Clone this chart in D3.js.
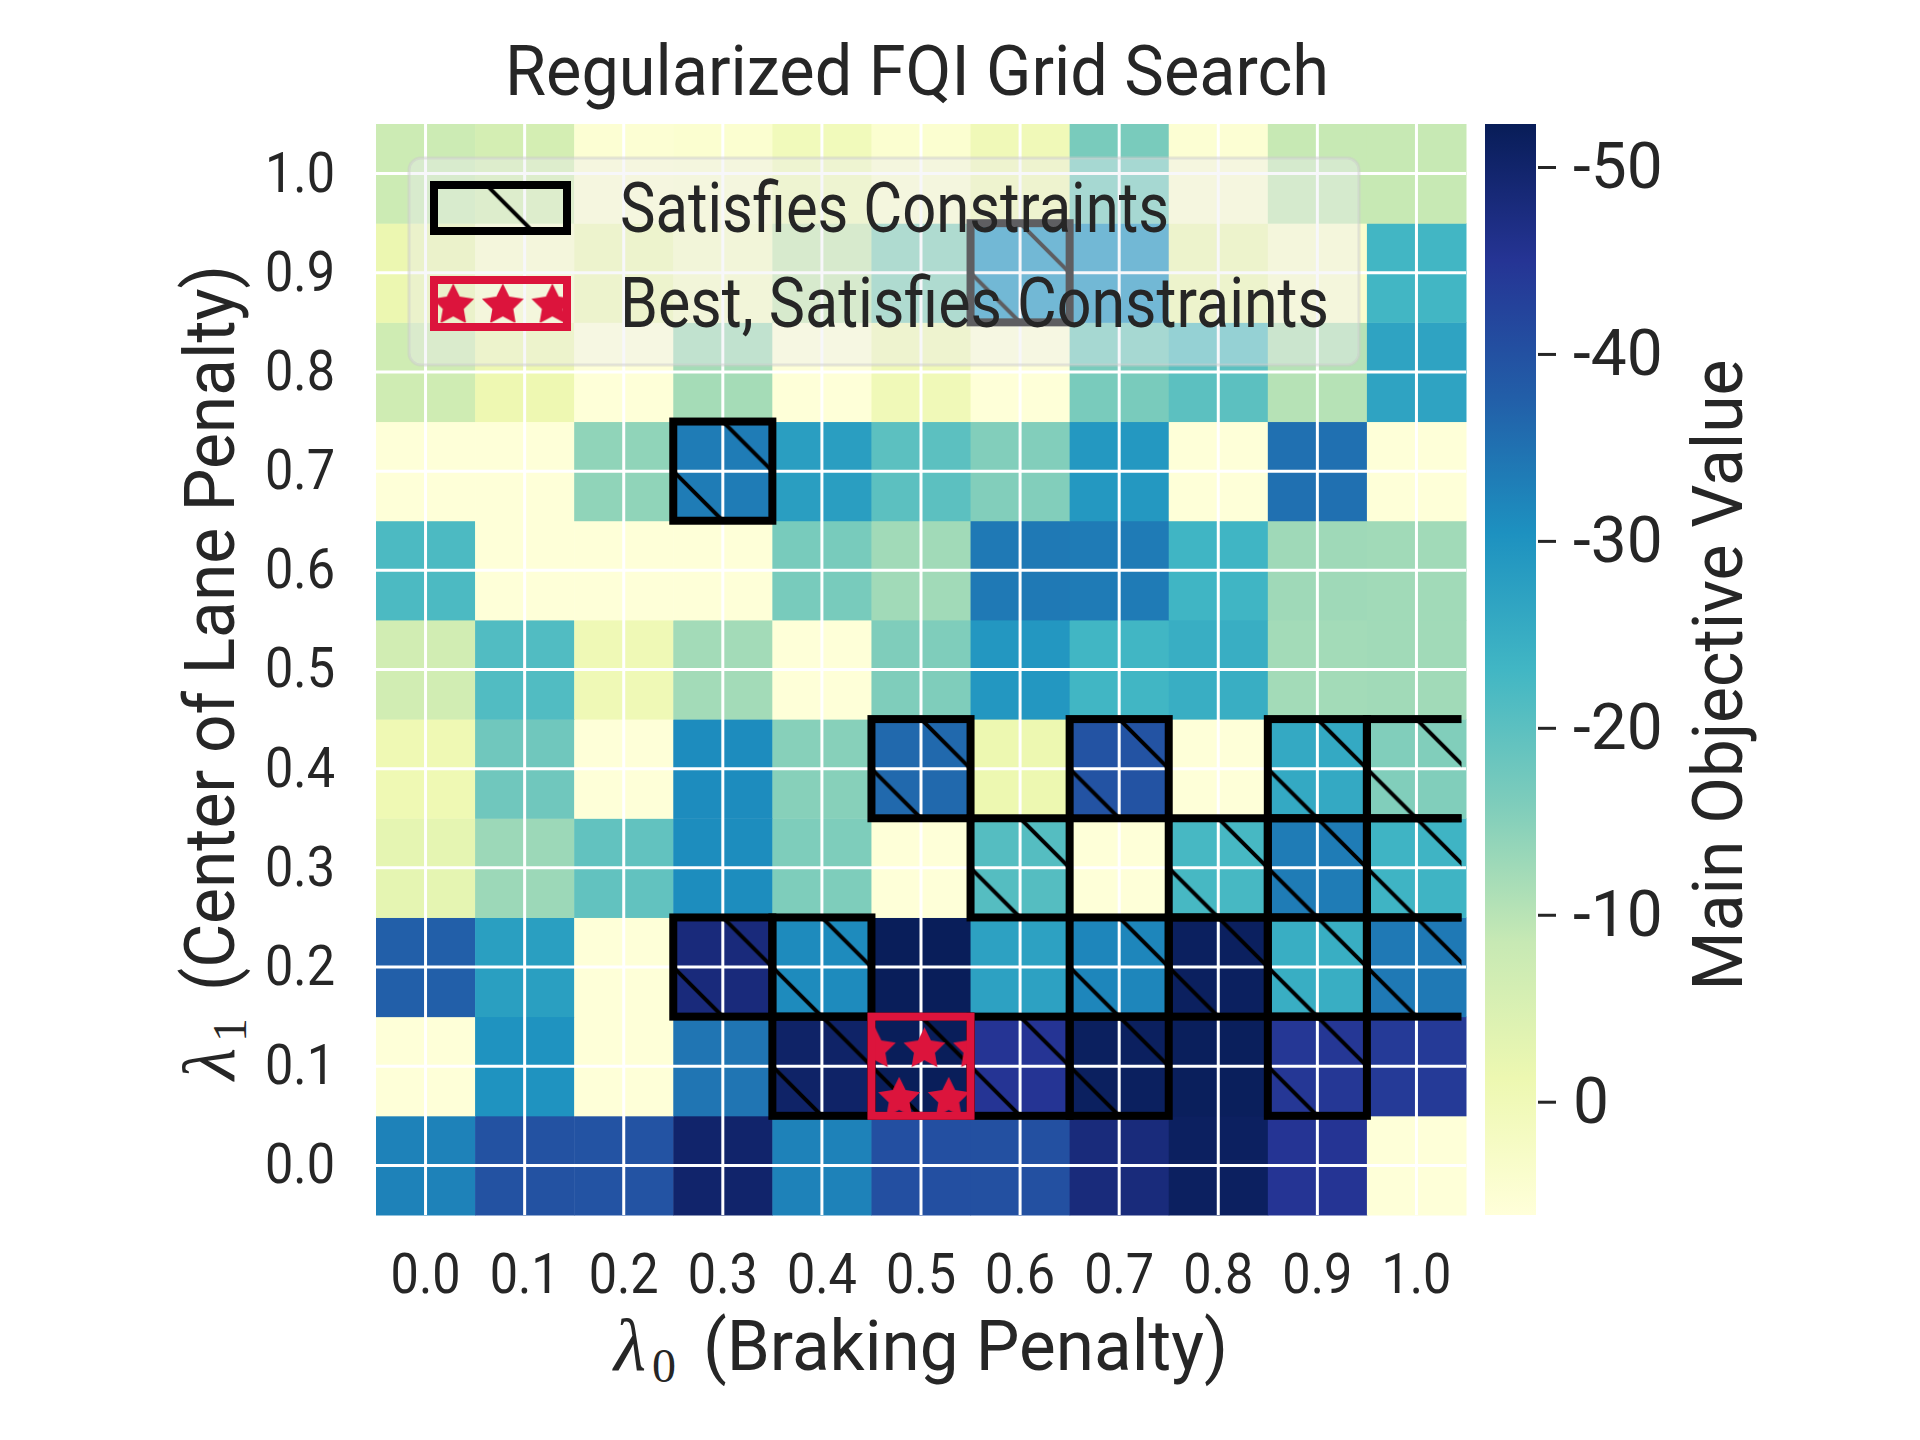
<!DOCTYPE html>
<html>
<head>
<meta charset="utf-8">
<script src="https://cdn.jsdelivr.net/npm/d3@7"></script>
<style>
    body { margin: 0; background: #fff; }
    text { font-family: Roboto, "Liberation Sans", sans-serif; fill: #262626; }
</style>
</head>
<body>
<div id="chart"></div>
<script>
// Regularized FQI grid search heatmap

// tick labels
const lambda0Labels = ['0.0', '0.1', '0.2', '0.3', '0.4', '0.5', '0.6', '0.7', '0.8', '0.9', '1.0'];
const lambda1Labels = ['0.0', '0.1', '0.2', '0.3', '0.4', '0.5', '0.6', '0.7', '0.8', '0.9', '1.0'];

// main objective value, one row per lambda1 (0.0 at the bottom), columns lambda0 0.0 .. 1.0
const objective = [
    [-32.6, -39.8, -39.7, -50.0, -32.6, -40.3, -40.2, -48.0, -51.3, -45.0,   5.8], // 0.0
    [  5.8, -30.0,   5.8, -34.4, -50.5, -52.0, -45.0, -51.5, -51.8, -44.5, -44.0], // 0.1
    [-37.5, -27.7,   5.8, -48.1, -31.3, -52.0, -27.2, -32.0, -51.5, -24.7, -33.9], // 0.2
    [ -2.7, -12.9, -19.2, -31.0, -15.9,   5.8, -20.8,   5.8, -22.4, -33.4, -23.5], // 0.3
    [ -0.6, -17.6,   5.8, -31.1, -15.0, -36.2,  -1.3, -39.6,   5.8, -25.7, -15.6], // 0.4
    [ -6.6, -21.2,  -0.4, -12.2,   5.8, -15.8, -29.2, -23.2, -24.7, -12.2, -12.4], // 0.5
    [-21.8,   5.8,   5.8,   5.8, -16.6, -12.4, -33.8, -33.5, -23.3, -12.6, -12.4], // 0.6
    [  5.8,   5.8, -14.1, -33.4, -27.8, -19.9, -15.5, -29.0,   5.8, -35.1,   5.8], // 0.7
    [ -7.0,  -1.0,   5.8, -12.0,   5.8,   0.0,   5.8, -16.5, -19.9, -10.3, -26.8], // 0.8
    [ -1.5,   4.0,  -0.5,   3.0,  -8.0, -15.0, -29.5, -29.5,  -1.0,   4.0, -23.0], // 0.9
    [ -7.5,  -6.0,   5.0,   4.5,   0.5,   4.5,   0.0, -16.5,   5.0,  -8.5,  -8.5]  // 1.0
];

// cells that satisfy the constraints: [lambda0 index, lambda1 index]
const satisfiesCells = [
    [3, 7], [6, 9],
    [5, 4], [7, 4], [9, 4], [10, 4],
    [6, 3], [8, 3], [9, 3], [10, 3],
    [3, 2], [4, 2], [7, 2], [8, 2], [9, 2], [10, 2],
    [4, 1], [5, 1], [6, 1], [7, 1], [9, 1]
];
const bestCell = [5, 1];

const colorbarTicks = [-50, -40, -30, -20, -10, 0];
const colorDomain = [6.06, -52.3];
const ylgnbu = ['#ffffd9', '#edf8b1', '#c7e9b4', '#7fcdbb', '#41b6c4', '#1d91c0', '#225ea8', '#253494', '#081d58'];

// five-pointed star, inner radius half the outer one
function starPath(R) {
    const pts = d3.range(10).map(i => {
        const a = -Math.PI / 2 + i * Math.PI / 5;
        const r = i % 2 ? R * 0.5 : R;
        return [r * Math.cos(a), r * Math.sin(a)];
    });
    return 'M' + pts.map(p => p.join(',')).join('L') + 'Z';
}

function drawChart() {
    const W = 1920, H = 1440;
    const plot = { left: 376, right: 1466, top: 124, bottom: 1215 };
    const cbar = { left: 1485, right: 1536 };

    const svg = d3.select('#chart')
        .append('svg')
        .attr('width', W)
        .attr('height', H);

    svg.append('rect').attr('width', W).attr('height', H).attr('fill', '#fff');

    const x = d3.scaleBand().domain(lambda0Labels).range([plot.left, plot.right]);
    const y = d3.scaleBand().domain(lambda1Labels).range([plot.bottom, plot.top]);
    const cw = x.bandwidth(), ch = y.bandwidth();

    const stops = ylgnbu.map((c, i) => colorDomain[0] + (colorDomain[1] - colorDomain[0]) * i / (ylgnbu.length - 1));
    const color = d3.scaleLinear().domain(stops).range(ylgnbu).interpolate(d3.interpolateRgb).clamp(true);

    const defs = svg.append('defs');

    // hatch "\" aligned to the cell grid
    const hatch = defs.append('pattern')
        .attr('id', 'hatch')
        .attr('patternUnits', 'userSpaceOnUse')
        .attr('x', plot.left).attr('y', plot.top)
        .attr('width', cw).attr('height', ch);
    hatch.append('path')
        .attr('d', `M${cw / 2 - cw * 0.1},${-ch * 0.1}L${cw * 1.1},${ch / 2 + ch * 0.1}` +
                   `M${-cw * 0.1},${ch / 2 - ch * 0.1}L${cw / 2 + cw * 0.1},${ch * 1.1}`)
        .attr('stroke', '#000')
        .attr('stroke-width', 4)
        .attr('fill', 'none');

    // star hatch for the best cell
    const stars = defs.append('pattern')
        .attr('id', 'stars')
        .attr('patternUnits', 'userSpaceOnUse')
        .attr('x', plot.left).attr('y', plot.top)
        .attr('width', cw / 2).attr('height', ch);
    [[0.035 * cw, 0.33 * ch], [0.035 * cw + cw / 2, 0.33 * ch], [0.28 * cw, 0.83 * ch]].forEach(p => {
        stars.append('path')
            .attr('d', starPath(22))
            .attr('transform', `translate(${p[0]},${p[1]})`)
            .attr('fill', '#dc143c');
    });

    defs.append('clipPath').attr('id', 'box-clip')
        .append('rect')
        .attr('x', plot.left - 10).attr('y', plot.top - 10)
        .attr('width', plot.right - plot.left + 10 - 4.5)
        .attr('height', plot.bottom - plot.top + 20);

    const grad = defs.append('linearGradient')
        .attr('id', 'cbar-grad')
        .attr('x1', 0).attr('y1', 1).attr('x2', 0).attr('y2', 0);
    ylgnbu.forEach((c, i) => {
        grad.append('stop').attr('offset', i / (ylgnbu.length - 1)).attr('stop-color', c);
    });

    // heatmap cells
    const cells = [];
    objective.forEach((row, r) => row.forEach((v, c) => cells.push({ r, c, v })));

    svg.append('g')
        .selectAll('rect')
        .data(cells)
        .enter()
        .append('rect')
        .attr('x', d => x(lambda0Labels[d.c]))
        .attr('y', d => y(lambda1Labels[d.r]))
        .attr('width', cw + 0.5)
        .attr('height', ch + 0.5)
        .attr('fill', d => color(d.v));

    // white grid at tick positions
    const grid = svg.append('g').attr('stroke', '#fff').attr('stroke-width', 3);
    lambda0Labels.forEach(l => {
        grid.append('line')
            .attr('x1', x(l) + cw / 2).attr('x2', x(l) + cw / 2)
            .attr('y1', plot.top).attr('y2', plot.bottom);
    });
    lambda1Labels.forEach(l => {
        grid.append('line')
            .attr('x1', plot.left).attr('x2', plot.right)
            .attr('y1', y(l) + ch / 2).attr('y2', y(l) + ch / 2);
    });

    // constraint boxes
    const boxes = svg.append('g').attr('clip-path', 'url(#box-clip)');
    boxes.selectAll('.hatch')
        .data(satisfiesCells)
        .enter()
        .append('rect')
        .attr('class', 'hatch')
        .attr('x', d => x(lambda0Labels[d[0]]))
        .attr('y', d => y(lambda1Labels[d[1]]))
        .attr('width', cw)
        .attr('height', ch)
        .attr('fill', 'url(#hatch)');

    boxes.selectAll('.box')
        .data(satisfiesCells)
        .enter()
        .append('rect')
        .attr('class', 'box')
        .attr('x', d => x(lambda0Labels[d[0]]))
        .attr('y', d => y(lambda1Labels[d[1]]))
        .attr('width', cw)
        .attr('height', ch)
        .attr('fill', 'none')
        .attr('stroke', '#000')
        .attr('stroke-width', 8);

    svg.append('rect')
        .attr('x', x(lambda0Labels[bestCell[0]]))
        .attr('y', y(lambda1Labels[bestCell[1]]))
        .attr('width', cw)
        .attr('height', ch)
        .attr('fill', 'url(#stars)')
        .attr('stroke', '#dc143c')
        .attr('stroke-width', 8);

    // axes
    const xAxis = svg.append('g')
        .attr('transform', `translate(0,${plot.bottom})`)
        .call(d3.axisBottom(x).tickSize(0).tickPadding(38));
    const yAxis = svg.append('g')
        .attr('transform', `translate(${plot.left},0)`)
        .call(d3.axisLeft(y).tickSize(0).tickPadding(41));
    [xAxis, yAxis].forEach(a => {
        a.select('.domain').remove();
        a.selectAll('text')
            .attr('fill', '#262626')
            .style('font-size', '56px')
            .style('font-family', 'Roboto, sans-serif')
            .attr('textLength', 70)
            .attr('lengthAdjust', 'spacingAndGlyphs');
    });

    // colorbar
    svg.append('rect')
        .attr('x', cbar.left).attr('y', plot.top)
        .attr('width', cbar.right - cbar.left)
        .attr('height', plot.bottom - plot.top)
        .attr('fill', 'url(#cbar-grad)');

    const cScale = d3.scaleLinear().domain(colorDomain).range([plot.bottom, plot.top]);
    const cAxis = svg.append('g')
        .attr('transform', `translate(${cbar.right + 2},0)`)
        .call(d3.axisRight(cScale).tickValues(colorbarTicks).tickSize(18).tickPadding(17).tickFormat(d3.format('d')));
    cAxis.select('.domain').remove();
    cAxis.selectAll('line').attr('stroke', '#262626').attr('stroke-width', 3);
    cAxis.selectAll('text')
        .attr('fill', '#262626')
        .style('font-size', '64px')
        .style('font-family', 'Roboto, sans-serif')
        .text(d => (d < 0 ? '-' + Math.abs(d) : d));

    // title and labels
    svg.append('text')
        .attr('x', 917).attr('y', 95)
        .attr('text-anchor', 'middle')
        .attr('textLength', 824).attr('lengthAdjust', 'spacingAndGlyphs')
        .style('font-size', '70px')
        .text('Regularized FQI Grid Search');

    const xl = svg.append('g');
    xl.append('text').attr('x', 614).attr('y', 1370)
        .style('font-family', '"Liberation Serif", serif').style('font-style', 'italic').style('font-size', '74px')
        .text('λ');
    xl.append('text').attr('x', 652).attr('y', 1382)
        .style('font-family', '"Liberation Serif", serif').style('font-size', '48px')
        .text('0');
    xl.append('text').attr('x', 703).attr('y', 1370)
        .attr('textLength', 525).attr('lengthAdjust', 'spacingAndGlyphs')
        .style('font-size', '70px')
        .text('(Braking Penalty)');

    const yl = svg.append('g').attr('transform', 'translate(234,0) rotate(-90)');
    yl.append('text').attr('x', -1080).attr('y', 0)
        .style('font-family', '"Liberation Serif", serif').style('font-style', 'italic').style('font-size', '74px')
        .text('λ');
    yl.append('text').attr('x', -1042).attr('y', 12)
        .style('font-family', '"Liberation Serif", serif').style('font-size', '48px')
        .text('1');
    yl.append('text').attr('x', -991).attr('y', 0)
        .attr('textLength', 726).attr('lengthAdjust', 'spacingAndGlyphs')
        .style('font-size', '70px')
        .text('(Center of Lane Penalty)');

    svg.append('text')
        .attr('transform', 'translate(1742,675) rotate(-90)')
        .attr('text-anchor', 'middle')
        .attr('textLength', 631).attr('lengthAdjust', 'spacingAndGlyphs')
        .style('font-size', '70px')
        .text('Main Objective Value');

    // legend, drawn over the heatmap with a translucent frame
    const lg = svg.append('g');
    lg.append('rect')
        .attr('x', 409).attr('y', 158)
        .attr('width', 950).attr('height', 207)
        .attr('rx', 12)
        .attr('fill', '#eaeaf2').attr('fill-opacity', 0.4)
        .attr('stroke', '#cccccc').attr('stroke-opacity', 0.5).attr('stroke-width', 3);

    lg.append('rect')
        .attr('x', 434).attr('y', 185)
        .attr('width', 133).attr('height', 46)
        .attr('fill', 'url(#hatch)')
        .attr('stroke', '#000').attr('stroke-width', 8);
    lg.append('rect')
        .attr('x', 434).attr('y', 280)
        .attr('width', 133).attr('height', 47)
        .attr('fill', 'url(#stars)')
        .attr('stroke', '#dc143c').attr('stroke-width', 8);

    lg.append('text').attr('x', 620).attr('y', 232)
        .attr('textLength', 549).attr('lengthAdjust', 'spacingAndGlyphs')
        .style('font-size', '70px')
        .text('Satisfies Constraints');
    lg.append('text').attr('x', 620).attr('y', 327)
        .attr('textLength', 709).attr('lengthAdjust', 'spacingAndGlyphs')
        .style('font-size', '70px')
        .text('Best, Satisfies Constraints');
}

drawChart();
</script>
</body>
</html>
